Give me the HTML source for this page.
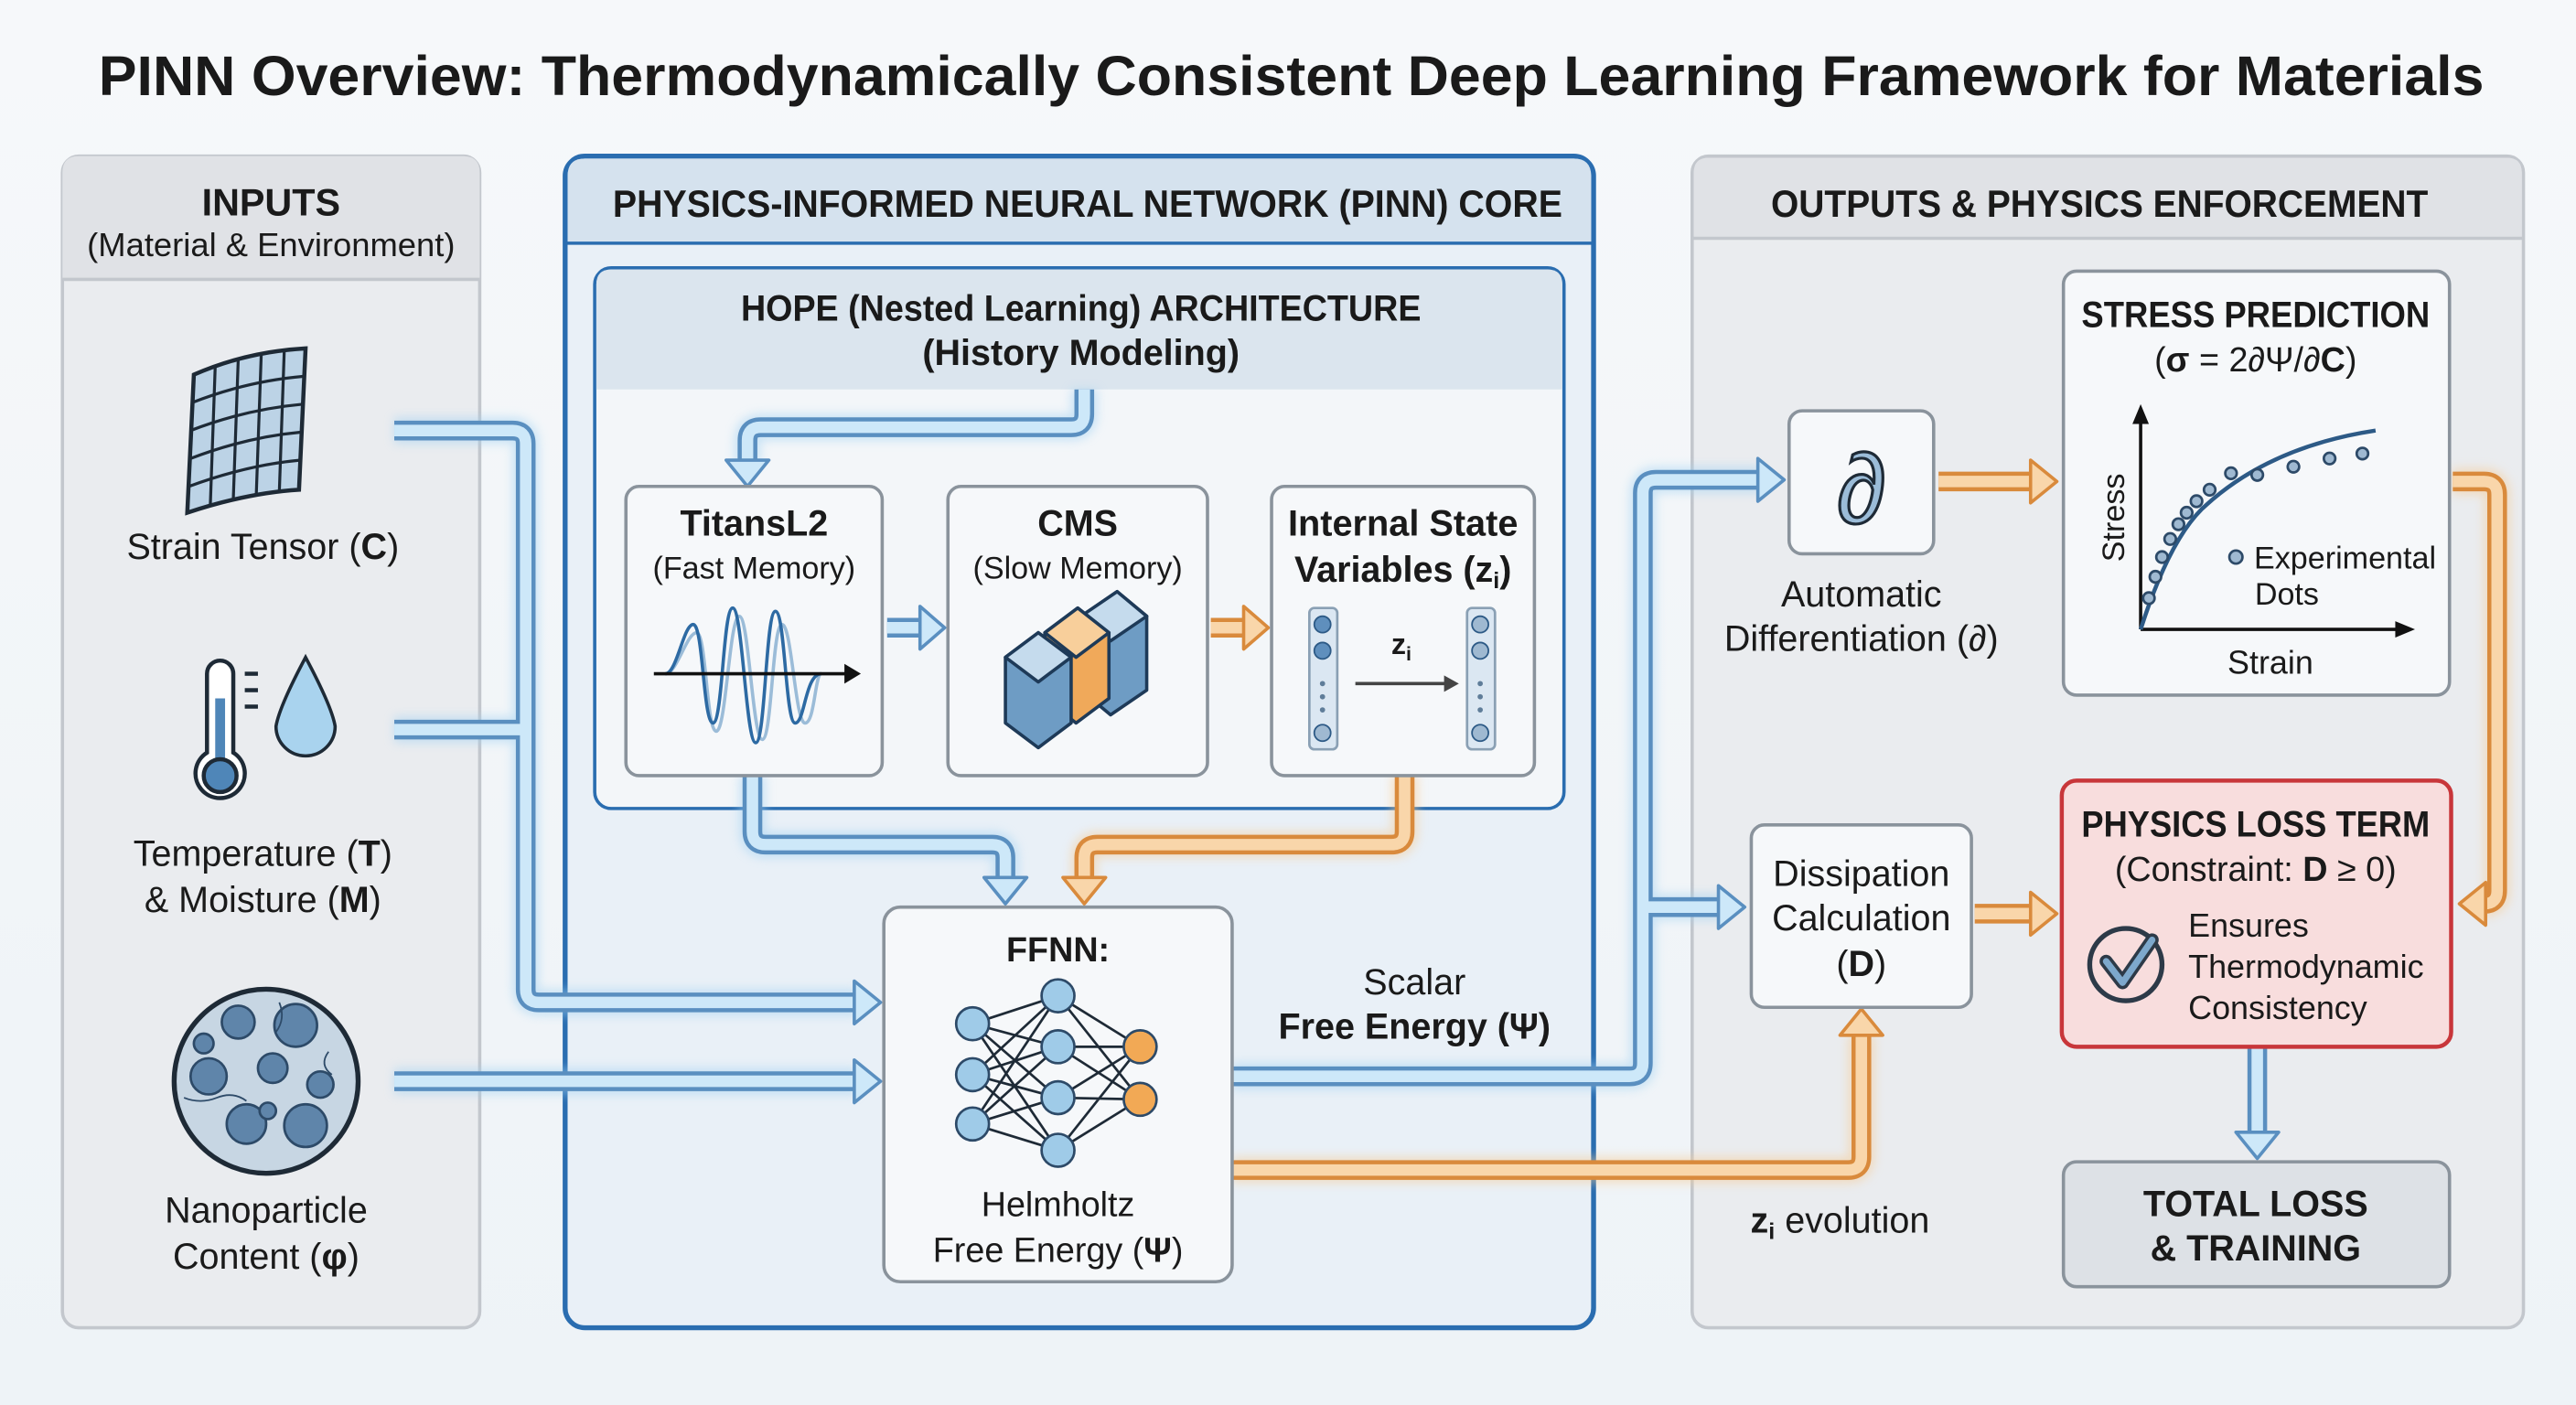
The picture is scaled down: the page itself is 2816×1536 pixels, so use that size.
<!DOCTYPE html>
<html><head><meta charset="utf-8"><style>
html,body{margin:0;padding:0;background:#f3f6f9;}
svg{display:block;}
text{font-family:"Liberation Sans",sans-serif;fill:#1a1a1a;}
.b{font-weight:bold;}
</style></head><body>
<svg width="2816" height="1536" viewBox="0 0 1568 855" preserveAspectRatio="none" xmlns="http://www.w3.org/2000/svg">
<defs>
<linearGradient id="bg" x1="0" y1="0" x2="0" y2="1"><stop offset="0" stop-color="#f6f8fa"/><stop offset="1" stop-color="#eef3f7"/></linearGradient>
<filter id="glow" x="-20%" y="-20%" width="140%" height="140%"><feGaussianBlur stdDeviation="3"/></filter>
</defs>
<rect width="1568" height="855" fill="url(#bg)"/>
<text x="786" y="58" text-anchor="middle" class="b" font-size="34" textLength="1452" lengthAdjust="spacingAndGlyphs">PINN Overview: Thermodynamically Consistent Deep Learning Framework for Materials</text>

<!-- INPUTS panel -->
<rect x="38" y="95" width="254" height="713" rx="10" fill="#eaecef" stroke="#c3c7cd" stroke-width="2"/>
<path d="M38,170 V105 Q38,95 48,95 H282 Q292,95 292,105 V170 Z" fill="#e0e2e6"/>
<line x1="38" y1="170" x2="292" y2="170" stroke="#c3c7cd" stroke-width="2"/>
<text x="165" y="131" text-anchor="middle" class="b" font-size="23">INPUTS</text>
<text x="165" y="156" text-anchor="middle" font-size="20" textLength="224" lengthAdjust="spacingAndGlyphs">(Material &amp; Environment)</text>

<!-- strain grid -->
<g stroke="#1e2a36" stroke-width="2.5" fill="#bcd3e6">
<path d="M118,228 Q150,214 186,212 L182,298 Q150,300 114,312 Z"/>
</g>
<g stroke="#1e2a36" stroke-width="1.8" fill="none">
<path d="M117,245 Q150,232 185,229"/><path d="M116,262 Q150,249 184,246"/><path d="M116,279 Q150,266 183,263"/><path d="M115,296 Q150,283 183,280"/>
<path d="M131,223 L128,308"/><path d="M145,219 L142,304"/><path d="M159,216 L156,301"/><path d="M173,214 L170,300"/>
</g>
<text x="160" y="340" text-anchor="middle" font-size="22">Strain Tensor (<tspan class="b">C</tspan>)</text>

<!-- thermometer -->
<g stroke="#1e2a36" stroke-width="2.5">
<path d="M126,410 V458 A15,15 0 1 0 142,458 V410 A8,8 0 0 0 126,410 Z" fill="#fff"/>
<rect x="131" y="425" width="6" height="40" fill="#4f86b8" stroke="none"/>
<circle cx="134" cy="472" r="10" fill="#4f86b8"/>
<line x1="149" y1="410" x2="157" y2="410"/><line x1="149" y1="420" x2="157" y2="420"/><line x1="149" y1="430" x2="157" y2="430"/>
<path d="M186,400 Q170,430 168,442 A18,18 0 0 0 204,442 Q202,430 186,400 Z" fill="#a9d3ee" stroke-width="2"/>
</g>
<text x="160" y="527" text-anchor="middle" font-size="22">Temperature (<tspan class="b">T</tspan>)</text>
<text x="160" y="555" text-anchor="middle" font-size="22">&amp; Moisture (<tspan class="b">M</tspan>)</text>

<!-- nanoparticle -->
<circle cx="162" cy="658" r="56" fill="#c7d6e3" stroke="#1e2a36" stroke-width="3"/>
<g fill="#5f85aa" stroke="#2d4a68" stroke-width="1.5">
<circle cx="145" cy="622" r="10"/><circle cx="180" cy="624" r="13"/><circle cx="127" cy="655" r="11"/><circle cx="166" cy="650" r="9"/>
<circle cx="195" cy="660" r="8"/><circle cx="150" cy="684" r="12"/><circle cx="186" cy="685" r="13"/><circle cx="124" cy="635" r="6"/><circle cx="163" cy="676" r="5"/>
</g>
<g fill="none" stroke="#2d4a68" stroke-width="1"><path d="M112,668 q10,4 20,0 t18,2"/><path d="M170,610 q4,10 -2,18"/><path d="M200,640 q-6,8 2,14"/></g>
<text x="162" y="744" text-anchor="middle" font-size="22">Nanoparticle</text>
<text x="162" y="772" text-anchor="middle" font-size="22">Content (<tspan class="b">φ</tspan>)</text>

<!-- PINN CORE -->
<rect x="344" y="95" width="626" height="713" rx="12" fill="#e9f0f7" stroke="#2a6db0" stroke-width="3"/>
<path d="M345.5,148 V107 Q345.5,96.5 356,96.5 H958 Q968.5,96.5 968.5,107 V148 Z" fill="#d5e2ee"/>
<line x1="344" y1="148" x2="970" y2="148" stroke="#2a6db0" stroke-width="2"/>
<text x="662" y="132" text-anchor="middle" class="b" font-size="23" textLength="578" lengthAdjust="spacingAndGlyphs">PHYSICS-INFORMED NEURAL NETWORK (PINN) CORE</text>

<rect x="362" y="163" width="590" height="329" rx="10" fill="#f3f6f9" stroke="#2a6db0" stroke-width="2"/>
<path d="M363,237 V173 Q363,164 372,164 H942 Q951,164 951,173 V237 Z" fill="#dbe5ee"/>
<text x="658" y="195" text-anchor="middle" class="b" font-size="22" textLength="414" lengthAdjust="spacingAndGlyphs">HOPE (Nested Learning) ARCHITECTURE</text>
<text x="658" y="222" text-anchor="middle" class="b" font-size="22">(History Modeling)</text>

<!-- OUTPUTS panel -->
<rect x="1030" y="95" width="506" height="713" rx="10" fill="#eaecef" stroke="#c3c7cd" stroke-width="2"/>
<path d="M1031,145 V105 Q1031,96 1040,96 H1526 Q1535,96 1535,105 V145 Z" fill="#e0e2e6"/>
<line x1="1030" y1="145" x2="1536" y2="145" stroke="#c3c7cd" stroke-width="2"/>
<text x="1278" y="132" text-anchor="middle" class="b" font-size="23" textLength="400" lengthAdjust="spacingAndGlyphs">OUTPUTS &amp; PHYSICS ENFORCEMENT</text>

<!-- PIPES: blue -->
<g fill="none" stroke-linejoin="round">
<g stroke="#9fd0f2" stroke-width="16" opacity="0.5" filter="url(#glow)">
<path d="M240,262 H312 Q320,262 320,270 V602 Q320,610 328,610 H522"/><path d="M240,444 H320"/><path d="M240,658 H522"/>
<path d="M660,237 V252 Q660,260 652,260 H463 Q455,260 455,268 V282"/>
<path d="M458,472 V506 Q458,514 466,514 H604 Q612,514 612,522 V536"/>
<path d="M750,655 H992 Q1000,655 1000,647 V300 Q1000,292 1008,292 H1072"/><path d="M1000,552 H1048"/>
</g>
<g stroke="#5a8fc0" stroke-width="12">
<path d="M240,262 H312 Q320,262 320,270 V602 Q320,610 328,610 H522"/><path d="M240,444 H320"/><path d="M240,658 H522"/>
<path d="M660,237 V252 Q660,260 652,260 H463 Q455,260 455,268 V282"/>
<path d="M540,382 H562"/>
<path d="M458,472 V506 Q458,514 466,514 H604 Q612,514 612,522 V536"/>
<path d="M750,655 H992 Q1000,655 1000,647 V300 Q1000,292 1008,292 H1072"/><path d="M1000,552 H1048"/>
<path d="M1374,637 V691"/>
</g>
<g stroke="#cde8f9" stroke-width="7">
<path d="M240,262 H312 Q320,262 320,270 V602 Q320,610 328,610 H522"/><path d="M240,444 H320"/><path d="M240,658 H522"/>
<path d="M660,237 V252 Q660,260 652,260 H463 Q455,260 455,268 V282"/>
<path d="M540,382 H562"/>
<path d="M458,472 V506 Q458,514 466,514 H604 Q612,514 612,522 V536"/>
<path d="M750,655 H992 Q1000,655 1000,647 V300 Q1000,292 1008,292 H1072"/><path d="M1000,552 H1048"/>
<path d="M1374,637 V691"/>
</g>
<!-- orange -->
<g stroke="#f6c98f" stroke-width="16" opacity="0.5" filter="url(#glow)">
<path d="M855,472 V506 Q855,514 847,514 H668 Q660,514 660,522 V536"/>
<path d="M750,712 H1125 Q1133,712 1133,704 V630"/>
<path d="M1493,293 H1512 Q1520,293 1520,301 V542 Q1520,550 1512,550 H1511"/>
</g>
<g stroke="#d98a3c" stroke-width="12">
<path d="M737,382 H758"/>
<path d="M855,472 V506 Q855,514 847,514 H668 Q660,514 660,522 V536"/>
<path d="M750,712 H1125 Q1133,712 1133,704 V630"/>
<path d="M1180,293 H1238"/><path d="M1202,556 H1238"/>
<path d="M1493,293 H1512 Q1520,293 1520,301 V542 Q1520,550 1512,550 H1511"/>
</g>
<g stroke="#f9d6aa" stroke-width="7">
<path d="M737,382 H758"/>
<path d="M855,472 V506 Q855,514 847,514 H668 Q660,514 660,522 V536"/>
<path d="M750,712 H1125 Q1133,712 1133,704 V630"/>
<path d="M1180,293 H1238"/><path d="M1202,556 H1238"/>
<path d="M1493,293 H1512 Q1520,293 1520,301 V542 Q1520,550 1512,550 H1511"/>
</g>
</g>
<!-- arrowheads -->
<g stroke="#5a8fc0" stroke-width="2" fill="#cde8f9" stroke-linejoin="round">
<polygon points="520,597 536,610 520,623"/><polygon points="520,645 536,658 520,671"/>
<polygon points="442,280 455,296 468,280"/>
<polygon points="560,369 575,382 560,395"/>
<polygon points="599,534 612,550 625,534"/>
<polygon points="1070,279 1086,292 1070,305"/><polygon points="1046,539 1062,552 1046,565"/>
<polygon points="1361,689 1374,705 1387,689"/>
</g>
<g stroke="#d98a3c" stroke-width="2" fill="#f9d6aa" stroke-linejoin="round">
<polygon points="757,369 772,382 757,395"/>
<polygon points="647,534 660,550 673,534"/>
<polygon points="1120,630 1133,614 1146,630"/>
<polygon points="1236,280 1252,293 1236,306"/><polygon points="1236,543 1252,556 1236,569"/>
<polygon points="1513,537 1497,550 1513,563"/>
</g>

<!-- HOPE sub-boxes -->
<g fill="#f6f8fa" stroke="#8a939c" stroke-width="2">
<rect x="381" y="296" width="156" height="176" rx="8"/>
<rect x="577" y="296" width="158" height="176" rx="8"/>
<rect x="774" y="296" width="160" height="176" rx="8"/>
</g>
<text x="459" y="326" text-anchor="middle" class="b" font-size="22">TitansL2</text>
<text x="459" y="352" text-anchor="middle" font-size="19">(Fast Memory)</text>
<text x="656" y="326" text-anchor="middle" class="b" font-size="22">CMS</text>
<text x="656" y="352" text-anchor="middle" font-size="19">(Slow Memory)</text>
<text x="854" y="326" text-anchor="middle" class="b" font-size="22" textLength="140" lengthAdjust="spacingAndGlyphs">Internal State</text>
<text x="854" y="354" text-anchor="middle" class="b" font-size="22">Variables (z<tspan font-size="14" dy="4">i</tspan><tspan dy="-4">)</tspan></text>
<!-- wave -->
<path d="M405,410 C412,410 418,385 424,385 S430,445 436,445 S444,375 450,375 S458,450 464,450 S470,380 476,380 S484,440 490,440 S496,410 500,410" fill="none" stroke="#9bbcd8" stroke-width="2"/>
<path d="M405,410 C412,410 416,380 422,380 S428,440 434,440 S440,370 446,370 S454,452 460,452 S466,372 472,372 S478,440 484,440 S490,410 500,410" fill="none" stroke="#2d6aa3" stroke-width="2"/>
<line x1="398" y1="410" x2="515" y2="410" stroke="#111" stroke-width="2"/>
<polygon points="514,404 524,410 514,416" fill="#111"/>
<!-- cubes -->
<g stroke="#1e3a58" stroke-width="2" stroke-linejoin="round">
<polygon points="658,375 680,360 698,375 698,420 676,435 658,420" fill="#6e9cc4"/>
<polygon points="658,375 680,360 698,375 676,390" fill="#c5dbed"/>
<polygon points="636,385 656,370 675,385 675,425 655,440 636,425" fill="#f0a95a"/>
<polygon points="636,385 656,370 675,385 655,400" fill="#f8cf9b"/>
<polygon points="612,400 632,385 652,400 652,440 632,455 612,440" fill="#6e9cc4"/>
<polygon points="612,400 632,385 652,400 632,415" fill="#c5dbed"/>
</g>
<!-- vectors -->
<g stroke="#8aa0b4" stroke-width="1.5" fill="#dbe7f2">
<rect x="797" y="370" width="17" height="86" rx="3"/><rect x="893" y="370" width="17" height="86" rx="3"/>
</g>
<g fill="#5f8fbd" stroke="#2d5a86" stroke-width="1">
<circle cx="805" cy="380" r="5"/><circle cx="805" cy="396" r="5"/><circle cx="805" cy="446" r="5" fill="#9fb9d1"/>
<circle cx="901" cy="380" r="5" fill="#9fb9d1"/><circle cx="901" cy="396" r="5" fill="#9fb9d1"/><circle cx="901" cy="446" r="5" fill="#9fb9d1"/>
</g>
<g fill="#5f7d99"><circle cx="805" cy="416" r="1.6"/><circle cx="805" cy="424" r="1.6"/><circle cx="805" cy="432" r="1.6"/><circle cx="901" cy="416" r="1.6"/><circle cx="901" cy="424" r="1.6"/><circle cx="901" cy="432" r="1.6"/></g>
<text x="853" y="398" text-anchor="middle" class="b" font-size="18">z<tspan font-size="12" dy="4">i</tspan></text>
<line x1="825" y1="416" x2="880" y2="416" stroke="#444" stroke-width="2"/><polygon points="879,411 888,416 879,421" fill="#444"/>

<!-- FFNN -->
<rect x="538" y="552" width="212" height="228" rx="10" fill="#f6f8fa" stroke="#8a939c" stroke-width="2"/>
<text x="644" y="585" text-anchor="middle" class="b" font-size="21">FFNN:</text>
<g stroke="#1e2a36" stroke-width="1.5">
<path d="M592,623 L644,606 M592,623 L644,637 M592,623 L644,668 M592,623 L644,700 M592,654 L644,606 M592,654 L644,637 M592,654 L644,668 M592,654 L644,700 M592,684 L644,606 M592,684 L644,637 M592,684 L644,668 M592,684 L644,700 M644,606 L694,637 M644,606 L694,669 M644,637 L694,637 M644,637 L694,669 M644,668 L694,637 M644,668 L694,669 M644,700 L694,637 M644,700 L694,669"/>
</g>
<g stroke="#2d4a68" stroke-width="1.5" fill="#9fcbe8">
<circle cx="592" cy="623" r="10"/><circle cx="592" cy="654" r="10"/><circle cx="592" cy="684" r="10"/>
<circle cx="644" cy="606" r="10"/><circle cx="644" cy="637" r="10"/><circle cx="644" cy="668" r="10"/><circle cx="644" cy="700" r="10"/>
<circle cx="694" cy="637" r="10" fill="#f2a955"/><circle cx="694" cy="669" r="10" fill="#f2a955"/>
</g>
<text x="644" y="740" text-anchor="middle" font-size="21">Helmholtz</text>
<text x="644" y="768" text-anchor="middle" font-size="21">Free Energy (<tspan class="b">Ψ</tspan>)</text>

<text x="861" y="605" text-anchor="middle" font-size="22">Scalar</text>
<text x="861" y="632" text-anchor="middle" class="b" font-size="22">Free Energy (Ψ)</text>
<text x="1120" y="750" text-anchor="middle" font-size="22"><tspan class="b">z</tspan><tspan font-size="14" dy="4" class="b">i</tspan><tspan dy="-4"> evolution</tspan></text>

<!-- d box -->
<rect x="1089" y="250" width="88" height="87" rx="8" fill="#f6f8fa" stroke="#8a939c" stroke-width="2"/>
<text x="1133" y="318" text-anchor="middle" font-size="60" font-family="DejaVu Sans, sans-serif" style="fill:#9bbcd8;stroke:#1e2a36;stroke-width:1.8">∂</text>
<text x="1133" y="369" text-anchor="middle" font-size="22">Automatic</text>
<text x="1133" y="396" text-anchor="middle" font-size="22">Differentiation (∂)</text>

<!-- stress prediction -->
<rect x="1256" y="165" width="235" height="258" rx="8" fill="#f6f8fa" stroke="#8a939c" stroke-width="2"/>
<text x="1373" y="199" text-anchor="middle" class="b" font-size="22" textLength="212" lengthAdjust="spacingAndGlyphs">STRESS PREDICTION</text>
<text x="1373" y="226" text-anchor="middle" font-size="21">(<tspan class="b">σ</tspan> = 2∂Ψ/∂<tspan class="b">C</tspan>)</text>
<line x1="1303" y1="383" x2="1303" y2="256" stroke="#111" stroke-width="2"/><polygon points="1298,258 1303,246 1308,258" fill="#111"/>
<line x1="1303" y1="383" x2="1460" y2="383" stroke="#111" stroke-width="2"/><polygon points="1458,378 1470,383 1458,388" fill="#111"/>
<path d="M1303,383 Q1320,330 1340,310 Q1380,272 1446,262" fill="none" stroke="#2d5a86" stroke-width="2.5"/>
<g fill="#9fb9d1" stroke="#2d4a68" stroke-width="1.5">
<circle cx="1308" cy="364" r="3.5"/><circle cx="1312" cy="351" r="3.5"/><circle cx="1316" cy="339" r="3.5"/><circle cx="1321" cy="328" r="3.5"/><circle cx="1326" cy="319" r="3.5"/><circle cx="1331" cy="312" r="3.5"/><circle cx="1337" cy="305" r="3.5"/><circle cx="1345" cy="298" r="3.5"/><circle cx="1358" cy="288" r="3.5"/><circle cx="1374" cy="289" r="3.5"/><circle cx="1396" cy="284" r="3.5"/><circle cx="1418" cy="279" r="3.5"/><circle cx="1438" cy="276" r="3.5"/>
<circle cx="1361" cy="339" r="4"/>
</g>
<text x="1293" y="315" text-anchor="middle" font-size="19" transform="rotate(-90 1293 315)">Stress</text>
<text x="1372" y="346" font-size="19">Experimental</text>
<text x="1392" y="368" text-anchor="middle" font-size="19">Dots</text>
<text x="1382" y="410" text-anchor="middle" font-size="20">Strain</text>

<!-- dissipation -->
<rect x="1066" y="502" width="134" height="111" rx="8" fill="#f6f8fa" stroke="#8a939c" stroke-width="2"/>
<text x="1133" y="539" text-anchor="middle" font-size="22">Dissipation</text>
<text x="1133" y="566" text-anchor="middle" font-size="22">Calculation</text>
<text x="1133" y="594" text-anchor="middle" font-size="22">(<tspan class="b">D</tspan>)</text>

<!-- physics loss -->
<rect x="1255" y="475" width="237" height="162" rx="9" fill="#f8dddd" stroke="#c8363a" stroke-width="2.5"/>
<text x="1373" y="509" text-anchor="middle" class="b" font-size="22" textLength="212" lengthAdjust="spacingAndGlyphs">PHYSICS LOSS TERM</text>
<text x="1373" y="536" text-anchor="middle" font-size="21">(Constraint: <tspan class="b">D</tspan> ≥ 0)</text>
<circle cx="1294" cy="587" r="22" fill="none" stroke="#2d3a48" stroke-width="3"/>
<path d="M1282,585 L1292,598 L1310,572" fill="none" stroke="#2d3a48" stroke-width="8" stroke-linecap="round" stroke-linejoin="round"/>
<path d="M1282,585 L1292,598 L1310,572" fill="none" stroke="#7da8cc" stroke-width="4" stroke-linecap="round" stroke-linejoin="round"/>
<text x="1332" y="570" font-size="20">Ensures</text>
<text x="1332" y="595" font-size="20">Thermodynamic</text>
<text x="1332" y="620" font-size="20">Consistency</text>

<!-- total loss -->
<rect x="1256" y="707" width="235" height="76" rx="8" fill="#dde1e6" stroke="#8a939c" stroke-width="2"/>
<text x="1373" y="740" text-anchor="middle" class="b" font-size="22">TOTAL LOSS</text>
<text x="1373" y="767" text-anchor="middle" class="b" font-size="22">&amp; TRAINING</text>
</svg>
</body></html>
